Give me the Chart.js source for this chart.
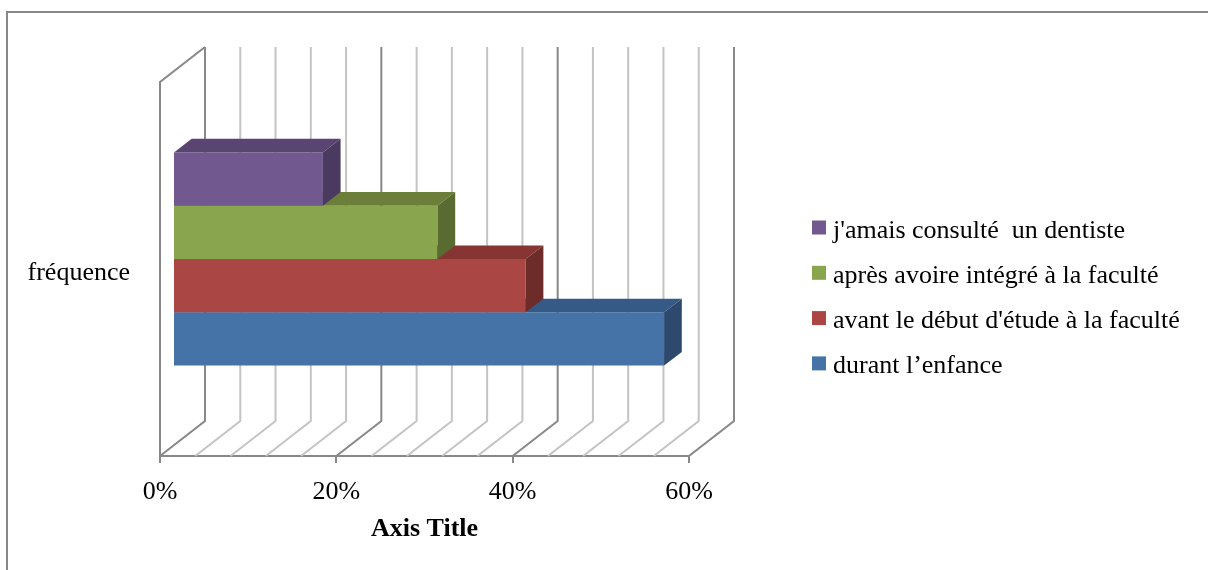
<!DOCTYPE html>
<html>
<head>
<meta charset="utf-8">
<script src="https://cdn.jsdelivr.net/npm/chart.js@4/dist/chart.umd.min.js"></script>
<style>
  html, body { margin: 0; padding: 0; background: #fff; overflow: hidden; }
  #wrap { position: relative; width: 1208px; height: 570px; }
</style>
</head>
<body>
<div id="wrap"><canvas id="c" width="1208" height="570"></canvas></div>
<script>
// ---- data ----
const categories = ['fréquence'];
const seriesNames = [
  "j'amais consulté  un dentiste",
  "après avoire intégré à la faculté",
  "avant le début d'étude à la faculté",
  "durant l’enfance"
];
const jamaisConsulte = [17];
const apresIntegration = [30];
const avantDebutEtudes = [40];
const durantEnfance = [55.7];
const axisTicks = [0, 20, 40, 60];
const minorStep = 4;

// ---- styles ----
const faceColors = [
  { front: '#71588F', top: '#5A4472', side: '#4A3A5F' },
  { front: '#89A54E', top: '#6B7F3B', side: '#5A6B31' },
  { front: '#AA4643', top: '#873533', side: '#6D2B2A' },
  { front: '#4572A7', top: '#365A86', side: '#2D4A6E' }
];
const FONT = "'Liberation Serif', 'Times New Roman', serif";
const WALL_DEPTH = { x: 45, y: -35 };   // front plane -> back wall
const BAR_SHIFT = { x: 13, y: -10 };    // front plane -> bar front face
const BAR_DEPTH = { x: 17.7, y: -13.6 };// bar front face -> bar back face
const MAJOR_LINE = '#888888';
const MINOR_LINE = '#C4C4C4';

const seriesValues = [jamaisConsulte, apresIntegration, avantDebutEtudes, durantEnfance];

// Page frame, 3D walls/floor and the extruded bar faces
const box3d = {
  id: 'box3d',
  beforeDraw(chart) {
    const ctx = chart.ctx;
    ctx.save();
    ctx.fillStyle = '#fff';
    ctx.fillRect(0, 0, chart.width, chart.height);
    ctx.strokeStyle = MAJOR_LINE;
    ctx.lineWidth = 2;
    ctx.strokeRect(7, 12, chart.width + 20, chart.height + 20);
    ctx.restore();
  },
  beforeDatasetsDraw(chart) {
    const { ctx, chartArea: a, scales: { x } } = chart;
    ctx.save();
    ctx.lineWidth = 2;
    ctx.lineJoin = 'miter';
    // minor lines first, major on top
    const values = [];
    for (let v = x.min; v <= x.max + 1e-9; v += minorStep) values.push(v);
    const drawLine = (v) => {
      const px = x.getPixelForValue(v);
      ctx.beginPath();
      ctx.moveTo(px, a.bottom);
      ctx.lineTo(px + WALL_DEPTH.x, a.bottom + WALL_DEPTH.y);
      ctx.lineTo(px + WALL_DEPTH.x, a.top + WALL_DEPTH.y);
      ctx.stroke();
    };
    ctx.strokeStyle = MINOR_LINE;
    values.filter(v => !axisTicks.includes(v)).forEach(drawLine);
    ctx.strokeStyle = MAJOR_LINE;
    values.filter(v => axisTicks.includes(v)).forEach(drawLine);
    // side wall edges
    ctx.beginPath();
    ctx.moveTo(a.left, a.bottom);
    ctx.lineTo(a.left, a.top);
    ctx.lineTo(a.left + WALL_DEPTH.x, a.top + WALL_DEPTH.y);
    ctx.stroke();
    ctx.restore();
    // bars sit part-way into the depth
    ctx.save();
    ctx.translate(BAR_SHIFT.x, BAR_SHIFT.y);
  },
  afterDatasetDraw(chart, args) {
    const ctx = chart.ctx;
    const shade = faceColors[args.index];
    args.meta.data.forEach(el => {
      const p = el.getProps(['x', 'y', 'base', 'height'], true);
      const left = Math.min(p.base, p.x), right = Math.max(p.base, p.x);
      const top = p.y - p.height / 2, bottom = p.y + p.height / 2;
      ctx.fillStyle = shade.top;
      ctx.beginPath();
      ctx.moveTo(left, top);
      ctx.lineTo(left + BAR_DEPTH.x, top + BAR_DEPTH.y);
      ctx.lineTo(right + BAR_DEPTH.x, top + BAR_DEPTH.y);
      ctx.lineTo(right, top);
      ctx.closePath();
      ctx.fill();
      ctx.fillStyle = shade.side;
      ctx.beginPath();
      ctx.moveTo(right, top);
      ctx.lineTo(right + BAR_DEPTH.x, top + BAR_DEPTH.y);
      ctx.lineTo(right + BAR_DEPTH.x, bottom + BAR_DEPTH.y);
      ctx.lineTo(right, bottom);
      ctx.closePath();
      ctx.fill();
    });
  },
  afterDatasetsDraw(chart) {
    chart.ctx.restore();
  }
};

// Legend block on the right, built from the datasets
const sideLegend = {
  id: 'sideLegend',
  afterDraw(chart) {
    const ctx = chart.ctx;
    const x0 = 812, firstCenter = 227.5, step = 45.3, sq = 14;
    ctx.save();
    ctx.font = '26px ' + FONT;
    ctx.textBaseline = 'alphabetic';
    ctx.textAlign = 'left';
    chart.data.datasets.forEach((ds, i) => {
      const cy = firstCenter + i * step;
      ctx.fillStyle = ds.backgroundColor;
      ctx.fillRect(x0, cy - sq / 2, sq, sq);
      ctx.fillStyle = '#000';
      ctx.fillText(ds.label, x0 + sq + 7, cy + 10);
    });
    ctx.restore();
  }
};

Chart.defaults.font.family = FONT;
Chart.defaults.font.size = 26;
Chart.defaults.color = '#000';

new Chart(document.getElementById('c'), {
  type: 'bar',
  data: {
    labels: categories,
    datasets: seriesNames.map((name, i) => ({
      label: name,
      data: seriesValues[i],
      backgroundColor: faceColors[i].front,
      borderWidth: 0,
      categoryPercentage: 0.57,
      barPercentage: 1.0,
      clip: false
    }))
  },
  options: {
    indexAxis: 'y',
    responsive: false,
    animation: false,
    devicePixelRatio: 1,
    layout: { padding: { top: 82, right: 519, bottom: 0, left: 0 } },
    plugins: {
      legend: { display: false },
      tooltip: { enabled: false }
    },
    scales: {
      x: {
        type: 'linear',
        min: 0,
        max: 60,
        afterBuildTicks(s) { s.ticks = axisTicks.map(v => ({ value: v })); },
        afterFit(s) { s.height = 114; },
        ticks: {
          padding: 14,
          maxRotation: 0,
          callback: v => v + '%'
        },
        grid: {
          drawOnChartArea: false,
          drawTicks: true,
          tickLength: 7,
          color: MAJOR_LINE,
          lineWidth: 2
        },
        border: { display: true, color: MAJOR_LINE, width: 2 },
        title: {
          display: true,
          text: 'Axis Title',
          font: { weight: 'bold', size: 26 },
          padding: { top: 0, bottom: 25 }
        }
      },
      y: {
        type: 'category',
        afterFit(s) { s.width = 160; },
        grid: { display: false },
        border: { display: false },
        ticks: { padding: 22, labelOffset: 4 }
      }
    }
  },
  plugins: [box3d, sideLegend]
});
</script>
</body>
</html>
